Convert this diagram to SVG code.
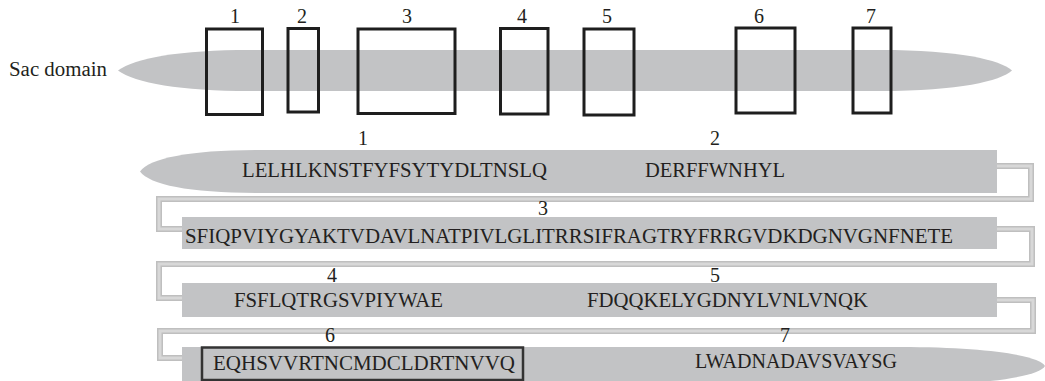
<svg xmlns="http://www.w3.org/2000/svg" width="1045" height="381" viewBox="0 0 1045 381">
<style>
  .t { font-family: "Liberation Serif", "Times New Roman", Times, Tinos, "Noto Serif", "DejaVu Serif", FreeSerif, serif; font-size: 20px; fill: #231f20; }
  .num { text-anchor: middle; }
  .bar { fill: #c2c3c5; }
  .box { fill: none; stroke: #1e1e1e; stroke-width: 3; }
  .link-out { fill: none; stroke: #bfbfbf; stroke-width: 6; }
  .link-in { fill: none; stroke: #d8d8d8; stroke-width: 3; }
</style>
<rect width="1045" height="381" fill="#ffffff"/>

<g id="sac-domain">
  <text class="t" x="9" y="76" textLength="98" lengthAdjust="spacingAndGlyphs">Sac domain</text>
  <path class="bar" d="M118,70.5 C135,58 180,50 250,50 L880,50 C960,50 1000,60 1012,70.5 C1000,81 960,91 880,91 L250,91 C180,91 135,83 118,70.5 Z"/>
</g>

<g id="top-boxes">
  <g id="tm1"><rect class="box" x="206.5" y="29" width="56" height="85.5"/><text class="t num" x="235" y="23">1</text></g>
  <g id="tm2"><rect class="box" x="288" y="28.5" width="30.5" height="83.5"/><text class="t num" x="302" y="23">2</text></g>
  <g id="tm3"><rect class="box" x="358" y="29" width="97" height="84.5"/><text class="t num" x="407" y="23">3</text></g>
  <g id="tm4"><rect class="box" x="500.5" y="28.5" width="47.5" height="85.5"/><text class="t num" x="522" y="23">4</text></g>
  <g id="tm5"><rect class="box" x="584" y="29" width="50" height="86"/><text class="t num" x="607" y="23">5</text></g>
  <g id="tm6"><rect class="box" x="736" y="28" width="59" height="85"/><text class="t num" x="759" y="23">6</text></g>
  <g id="tm7"><rect class="box" x="853" y="28" width="38" height="85"/><text class="t num" x="871" y="23">7</text></g>
</g>

<g id="connectors">
  <path class="link-out" d="M997,166 H1031 V199 H159 V229 H182"/>
  <path class="link-in" d="M997,166 H1031 V199 H159 V229 H182"/>
  <path class="link-out" d="M997,229 H1032 V264 H159 V298 H182"/>
  <path class="link-in" d="M997,229 H1032 V264 H159 V298 H182"/>
  <path class="link-out" d="M997,300 H1033 V331 H160 V358 H182"/>
  <path class="link-in" d="M997,300 H1033 V331 H160 V358 H182"/>
</g>

<g id="row1">
  <path class="bar" d="M140,171.5 C150,158 190,150 260,150 L997,150 L997,193 L260,193 C190,193 150,185 140,171.5 Z"/>
  <text class="t num" x="363" y="145">1</text>
  <text class="t num" x="715" y="145">2</text>
  <text class="t" x="242" y="177" textLength="305" lengthAdjust="spacingAndGlyphs">LELHLKNSTFYFSYTYDLTNSLQ</text>
  <text class="t" x="645" y="177" textLength="140" lengthAdjust="spacingAndGlyphs">DERFFWNHYL</text>
</g>

<g id="row2">
  <rect class="bar" x="182" y="217" width="815" height="32"/>
  <text class="t num" x="543" y="215">3</text>
  <text class="t" x="185" y="243" textLength="768" lengthAdjust="spacingAndGlyphs">SFIQPVIYGYAKTVDAVLNATPIVLGLITRRSIFRAGTRYFRRGVDKDGNVGNFNETE</text>
</g>

<g id="row3">
  <rect class="bar" x="182" y="283" width="815" height="34"/>
  <text class="t num" x="332" y="282">4</text>
  <text class="t num" x="715" y="282">5</text>
  <text class="t" x="234" y="307" textLength="209" lengthAdjust="spacingAndGlyphs">FSFLQTRGSVPIYWAE</text>
  <text class="t" x="587" y="307" textLength="281" lengthAdjust="spacingAndGlyphs">FDQQKELYGDNYLVNLVNQK</text>
</g>

<g id="row4">
  <path class="bar" d="M182,347 H900 C990,347 1040,356 1045,366 C1040,376 990,385 900,385 H182 Z"/>
  <rect x="202" y="347.5" width="321" height="32.5" fill="none" stroke="#333333" stroke-width="2.5"/>
  <text class="t num" x="330" y="342">6</text>
  <text class="t num" x="785" y="342">7</text>
  <text class="t" x="213" y="370" textLength="302" lengthAdjust="spacingAndGlyphs">EQHSVVRTNCMDCLDRTNVVQ</text>
  <text class="t" x="695" y="368" textLength="202" lengthAdjust="spacingAndGlyphs">LWADNADAVSVAYSG</text>
</g>
</svg>
